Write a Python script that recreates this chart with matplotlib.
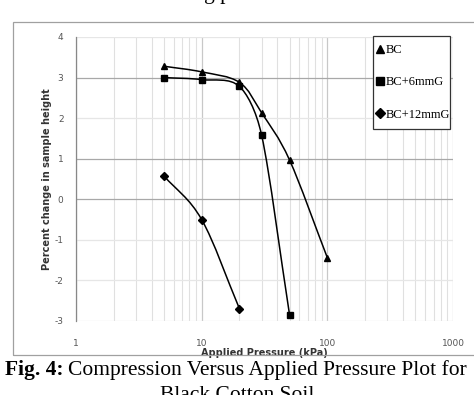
import numpy as np
import matplotlib
matplotlib.use('Agg')
import matplotlib.pyplot as plt
from matplotlib.path import Path
from matplotlib.patches import PathPatch, Rectangle
from matplotlib.lines import Line2D

plt.rcParams['axes.unicode_minus'] = False

# data
p_bc = [5, 10, 20, 30, 50, 100]
h_bc = [3.28, 3.14, 2.88, 2.13, 0.97, -1.44]
p_bc6 = [5, 10, 20, 30, 50]
h_bc6 = [3.0, 2.95, 2.78, 1.58, -2.84]
p_bc12 = [5, 10, 20]
h_bc12 = [0.58, -0.5, -2.7]
labels = ['BC', 'BC+6mmG', 'BC+12mmG']
markers = ['^', 's', 'D']
y_ticks = [-3, -2, -1, 0, 1, 2, 3, 4]
x_ticks = [1, 10, 100, 1000]


def ctrl(p0, p1, p2, p3):
    # spreadsheet style smoothing control points (screen space)
    dist = lambda a, b: np.hypot(*(b - a))
    d12, d02, d13 = dist(p1, p2), dist(p0, p2), dist(p1, p3)
    if d02 / 6 < d12 / 2 and d13 / 6 < d12 / 2:
        f = 1 / 6 if d02 > d12 + 1e-9 else 1 / 3
        b1 = p1 + (p2 - p0) * f
        f = 1 / 6 if d13 > d12 + 1e-9 else 1 / 3
        b2 = p2 - (p3 - p1) * f
    elif d02 / 6 >= d12 / 2 and d13 / 6 >= d12 / 2:
        b1 = p1 + (p2 - p0) * d12 / 2 / d02
        b2 = p2 - (p3 - p1) * d12 / 2 / d13
    elif d02 / 6 >= d12 / 2:
        b1 = p1 + (p2 - p0) * d12 / 2 / d02
        b2 = p2 - (p3 - p1) * d12 / 2 / d13 * (d13 / d02)
    else:
        b1 = p1 + (p2 - p0) * d12 / 2 / d02 * (d02 / d13)
        b2 = p2 - (p3 - p1) * d12 / 2 / d13
    return b1, b2


def smooth_path(ax, xs, ys):
    P = ax.transData.transform(np.column_stack([xs, ys]))
    n = len(P)
    verts = [P[0]]
    codes = [Path.MOVETO]
    for i in range(n - 1):
        b1, b2 = ctrl(P[max(i - 1, 0)], P[i], P[i + 1], P[min(i + 2, n - 1)])
        verts += [b1, b2, P[i + 1]]
        codes += [Path.CURVE4] * 3
    data = ax.transData.inverted().transform(np.array(verts))
    return Path(data, codes)


fig = plt.figure(figsize=(4.74, 3.95), dpi=100)
ax = fig.add_axes([76 / 474, 1 - 321 / 395, (453 - 76) / 474, (321 - 37) / 395])
ax.set_xscale('log')
ax.set_xlim(1, 1000)
ax.set_ylim(-3, 4)

# grid
for d in [1, 10, 100]:
    for k in range(2, 10):
        ax.axvline(d * k, color='#e0e0e0', lw=0.8, zorder=0)
for v in x_ticks:
    ax.axvline(v, color='#c8c8c8', lw=0.9, zorder=0)
for v in y_ticks:
    c = '#a8a8a8' if v in (3, 1, 0) else '#e6e6e6'
    ax.axhline(v, color=c, lw=0.9, zorder=0)

series = [(p_bc, h_bc), (p_bc6, h_bc6), (p_bc12, h_bc12)]
handles = []
for (xs, ys), m, lab in zip(series, markers, labels):
    ax.add_patch(PathPatch(smooth_path(ax, xs, ys), fill=False, edgecolor='black',
                           lw=1.1, transform=ax.transData, zorder=2))
    ms = 4.5 if m == 'D' else 5
    ax.plot(xs, ys, linestyle='none', marker=m, color='black', ms=ms, zorder=3)
    handles.append(Line2D([], [], linestyle='none', marker=m, color='black', ms=5.5))

for s in ['top', 'right', 'bottom']:
    ax.spines[s].set_visible(False)
ax.spines['left'].set_color('#888888')
ax.spines['left'].set_linewidth(0.9)

ax.set_xticks(x_ticks)
ax.set_xticklabels([str(v) for v in x_ticks])
ax.xaxis.set_minor_locator(matplotlib.ticker.NullLocator())
ax.set_yticks(y_ticks)
ax.tick_params(axis='x', length=0, pad=13, labelsize=6.5, labelcolor='#555555')
ax.tick_params(axis='y', length=0, pad=9, labelsize=6.5, labelcolor='#555555')

ax.set_xlabel('Applied Pressure (kPa)', fontsize=7, fontweight='bold',
              color='#333333', labelpad=0)
ax.set_ylabel('Percent change in sample height', fontsize=7, fontweight='bold',
              color='#333333', labelpad=2)

# legend: markers + labels, boxed separately
leg = fig.legend(handles, labels, loc='upper left',
                 bbox_to_anchor=(376 / 474, 1 - 44 / 395),
                 prop={'family': 'Liberation Serif', 'size': 9},
                 frameon=False, handlelength=0.7, handletextpad=0.1,
                 labelspacing=1.62, borderpad=0, borderaxespad=0)
fig.patches.append(Rectangle((373 / 474, 1 - 129 / 395), 77 / 474, 93 / 395,
                             transform=fig.transFigure, fill=True, facecolor='white',
                             edgecolor='#333333', lw=0.9, zorder=1))
leg.set_zorder(5)

# outer chart frame
fig.patches.append(Rectangle((13 / 474, 1 - 355 / 395), 470 / 474, 333 / 395,
                             transform=fig.transFigure, fill=False,
                             edgecolor='#a0a0a0', lw=0.9))

# caption and cut-off text from the page
fig.text(0.0, 1 + 1 / 395, 'the reduction of swelling pressure.',
         fontsize=15.5, family='Liberation Serif', va='baseline', ha='left')
t1 = fig.text(5 / 474, 1 - 370 / 395, 'Fig. 4:', fontsize=15.5,
              family='Liberation Serif', fontweight='bold', va='center', ha='left')
fig.canvas.draw()
bb = t1.get_window_extent(fig.canvas.get_renderer())
fig.text(bb.x1 / fig.bbox.width + 5 / 474, 1 - 370 / 395,
         'Compression Versus Applied Pressure Plot for', fontsize=15.5,
         family='Liberation Serif', va='center', ha='left')
fig.text(237 / 474, 1 - 386 / 395, 'Black Cotton Soil', fontsize=15.5,
         family='Liberation Serif', va='top', ha='center')

fig.savefig('out.png', dpi=100)
